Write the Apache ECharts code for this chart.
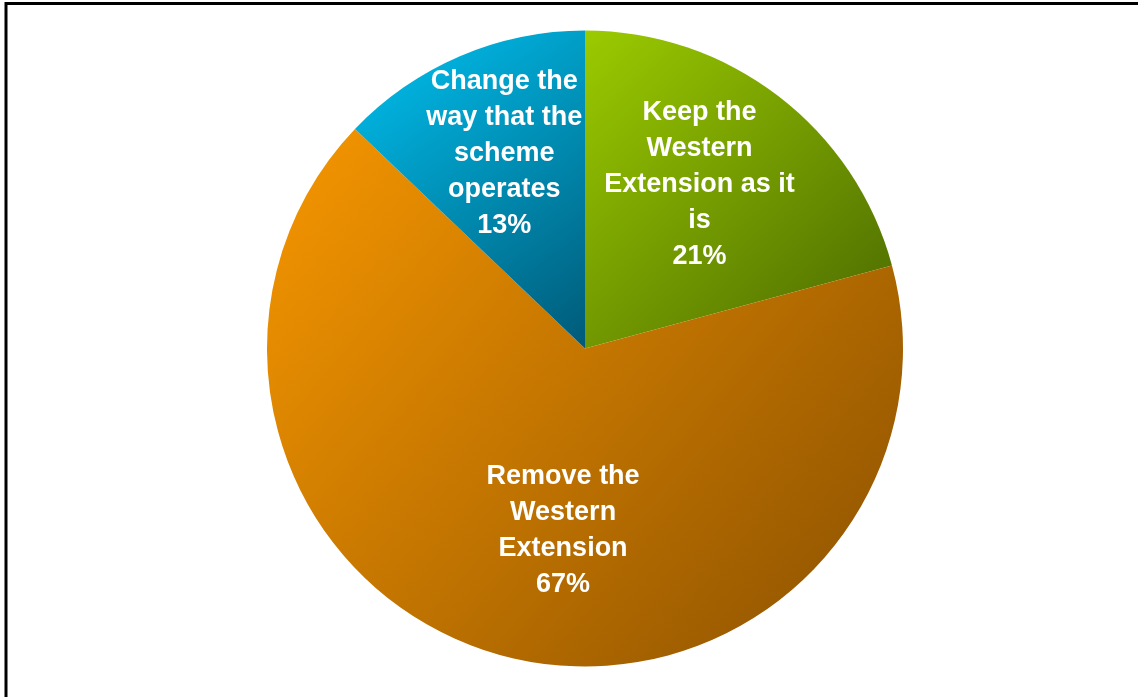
<!DOCTYPE html>
<html>
<head>
<meta charset="utf-8">
<title>Western Extension</title>
<script src="https://cdn.jsdelivr.net/npm/echarts@6/dist/echarts.min.js"></script>
<style>
  html, body { margin: 0; padding: 0; background: #ffffff; }
  #chart { width: 1138px; height: 697px; }
</style>
</head>
<body>
<div id="chart"></div>
<script>
// Survey responses on the Western Extension
const categories = [
  'Keep the\nWestern\nExtension as it\nis',
  'Remove the\nWestern\nExtension',
  'Change the\nway that the\nscheme\noperates'
];
const shares = [21, 67, 13];

// light (top-left) to dark (bottom-right) shade of each slice
const lightColors = ['#9BCB00', '#F79700', '#00C3F2'];
const darkColors = ['#4A6800', '#8A5000', '#005A78'];
// nudges that place each label where it sits inside its slice
const labelOffsets = [[16, -35], [18, 25], [-17, -46]];

const chart = echarts.init(document.getElementById('chart'), null, { renderer: 'canvas' });

const data = categories.map((name, i) => ({
  name: name,
  value: shares[i],
  itemStyle: {
    color: new echarts.graphic.LinearGradient(0, 0, 1, 1, [
      { offset: 0, color: lightColors[i] },
      { offset: 1, color: darkColors[i] }
    ])
  },
  label: { offset: labelOffsets[i] }
}));

chart.setOption({
  animation: false,
  backgroundColor: '#ffffff',
  graphic: [{
    type: 'polyline',
    shape: { points: [[6, 700], [6, 3.5], [1145, 3.5]] },
    style: { stroke: '#000000', lineWidth: 3, fill: null }
  }],
  series: [{
    type: 'pie',
    center: [585, 348.5],
    radius: [0, 318],
    startAngle: 90,
    clockwise: true,
    avoidLabelOverlap: false,
    itemStyle: { borderWidth: 0 },
    label: {
      show: true,
      position: 'inside',
      formatter: '{b}\n{c}%',
      color: '#ffffff',
      fontFamily: 'Liberation Sans, Arial, sans-serif',
      fontWeight: 'bold',
      fontSize: 27,
      lineHeight: 36,
      align: 'center'
    },
    labelLine: { show: false },
    emphasis: { disabled: true },
    data: data
  }]
});
</script>
</body>
</html>
